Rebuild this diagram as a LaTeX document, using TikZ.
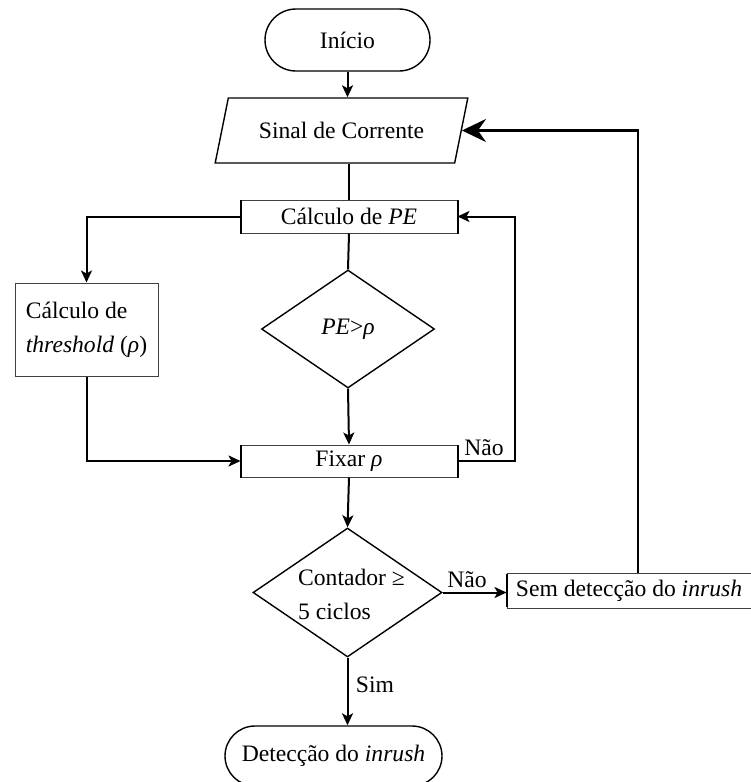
\documentclass[tikz,border=0pt]{standalone}
\usepackage{fontspec}
\setmainfont{Liberation Serif}
\usetikzlibrary{shapes.geometric,shapes.misc,arrows.meta}

\begin{document}
\begin{tikzpicture}[x=1pt,y=-1pt,
  every node/.style={font=\fontsize{23.6}{34}\selectfont, inner sep=0pt},
  conn/.style={line width=2pt, -{Stealth[length=12pt,width=11pt,inset=3pt]}},
  bigconn/.style={line width=2.4pt, -{Stealth[length=24pt,width=23pt,inset=8pt]}},
  wire/.style={line width=2pt},
  term/.style={draw, line width=1.4pt, rounded rectangle, minimum width=#1, minimum height=62pt},
  procbox/.style={draw=black!75, line width=1pt, minimum width=#1, minimum height=33pt},
  sides/.style={line width=2pt},
  decision/.style n args={2}{draw, diamond, line width=1.4pt, minimum width=#1, minimum height=#2},
  inputbox/.style={draw, line width=1.4pt, trapezium, trapezium left angle=60, trapezium right angle=120,
    trapezium stretches=true, minimum width=253pt, minimum height=65pt},
  tag/.style={anchor=center}
]
\useasboundingbox (0,0) rectangle (751,782);

% main column
\node[term=165pt] (inicio) at (347.5,40) {Início};
\node[inputbox] (sinal) at (341.5,130.5) {Sinal de Corrente};
\node[procbox=216pt] (calcpe) at (349,216.5) {Cálculo de \textit{PE}};
\node[decision={173pt}{118pt}] (pe) at (348,329) {\textit{PE}>\textit{ρ}};
\node[procbox=216pt, minimum height=32pt] (fixar) at (349,461) {Fixar \textit{ρ}};
\node[decision={189pt}{129pt}] (contador) at (347.5,592.5) {};
\node[align=left] (contadortxt) at (351.5,594) {Contador ≥\\5 ciclos};
\node[term=217pt, minimum height=60pt] (detec) at (333.5,756) {Detecção do \textit{inrush}};

% side boxes
\node[draw=black!75, line width=1pt, minimum width=143pt, minimum height=93pt, align=left]
  (thresh) at (86.5,329.5) {Cálculo de\\\textit{threshold} (\textit{ρ})};
\node[procbox=244pt, minimum height=35pt] (sem) at (629,591) {Sem detecção do \textit{inrush}};

% heavier side edges of the process boxes
\draw[sides] (calcpe.north west) -- (calcpe.south west) (calcpe.north east) -- (calcpe.south east);
\draw[sides] (fixar.north west) -- (fixar.south west) (fixar.north east) -- (fixar.south east);
\draw[sides] ([yshift=-1pt]sem.north west) -- ([yshift=2pt]sem.south west);

% routing columns
\coordinate (loopx) at (515,0);
\coordinate (backx) at (638,0);

% connectors
\draw[conn] (inicio.south) -- (inicio.south |- sinal.north);
\draw[wire] (sinal.south -| calcpe.north) -- (calcpe.north);
\draw[wire] (calcpe.south) -- (pe.north);
\draw[conn] (calcpe.west) -| (thresh.north);
\draw[conn] (thresh.south) |- (fixar.west);
\draw[conn] (pe.south) -- (fixar.north);
\draw[conn] (fixar.east) -- (fixar.east -| loopx) |- (calcpe.east);
\node[tag] (nao1) at (484,448) {Não};
\draw[conn] (fixar.south) -- (contador.north);
\draw[conn] (contador.east) -- (contador.east -| sem.west);
\node[tag] (nao2) at (467,580) {Não};
\draw[bigconn] (sem.north -| backx) |- (sinal.east);
\draw[conn] (contador.south) -- (contador.south |- detec.north);
\node[tag] (sim) at (375,685) {Sim};
\end{tikzpicture}
\end{document}
